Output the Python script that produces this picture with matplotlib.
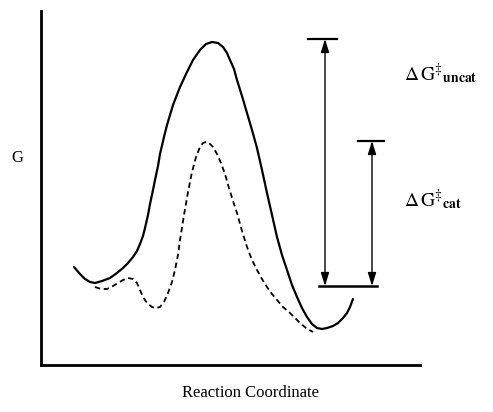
"""Free-energy profile: uncatalysed vs catalysed reaction coordinate diagram."""
import matplotlib
matplotlib.use("Agg")
import matplotlib.pyplot as plt

plt.rcParams["font.family"] = ["Liberation Serif", "DejaVu Serif"]
plt.rcParams["mathtext.fontset"] = "stix"

# Curves (x = reaction coordinate, y = G, pixel-like units, y grows downward)
uncat_x = [74, 80, 85, 90, 95, 102, 110, 117, 123, 128, 133, 137, 140, 143, 145, 148, 150,
           153, 155, 158, 160, 164, 167, 173, 180, 187, 193, 200, 206, 212, 218, 223, 227,
           230, 234, 237, 242, 247, 252, 257, 262, 267, 272, 277, 282, 287, 292, 297, 302,
           307, 312, 317, 322, 327, 333, 338, 343, 347, 350, 353]
uncat_y = [267, 274, 279, 282, 283, 281, 278, 273, 268, 263, 257, 251, 244, 236, 228, 215, 204,
           190, 180, 166, 154, 137, 125, 105, 87, 72, 60, 50, 44, 42, 43, 47, 53,
           60, 69, 80, 96, 113, 130, 148, 170, 193, 215, 237, 255, 270, 285, 297, 308,
           317, 324, 328, 329, 328, 326, 323, 318, 313, 307, 299]

cat_x = [95, 101, 107, 113, 118, 123, 128, 133, 137, 140, 143, 147, 152, 156, 160, 164,
         168, 172, 175, 178, 180, 184, 188, 192, 196, 200, 203, 206, 209, 213, 217,
         221, 225, 229, 233, 237, 242, 247, 252, 257, 262, 267, 272, 277, 283, 290, 295,
         300, 306, 313]
cat_y = [287, 289, 289, 286, 283, 280, 278, 279, 283, 290, 297, 303, 307, 308, 307, 302,
         293, 282, 270, 255, 240, 215, 192, 172, 157, 147, 143, 142, 143, 147, 154,
         163, 174, 188, 201, 213, 231, 247, 260, 270, 279, 287, 294, 300, 307, 313, 318,
         323, 328, 332]

# Energy-gap markers: (x of arrow, top level, bottom level, top bar span)
gap_x = [325, 372]
gap_top = [39, 141]
gap_bottom = 286
top_bar_left = [308, 358]
top_bar_right = [337, 384]
bottom_bar = (319, 377)
gap_labels = [r"$\Delta\,\mathrm{G}^{\ddagger}{}_{\mathbf{uncat}}$",
              r"$\Delta\,\mathrm{G}^{\ddagger}{}_{\mathbf{cat}}$"]
label_y = [74, 200]

fig = plt.figure(figsize=(4.93, 4.12), dpi=100)
W, H = 493, 412
ax = fig.add_axes([41 / W, 1 - 365 / H, (420 - 41) / W, (365 - 11) / H])
ax.set_xlim(41, 420)
ax.set_ylim(365, 11)

ax.plot(uncat_x, uncat_y, color="black", lw=1.6, solid_capstyle="round",
        solid_joinstyle="round")
ax.plot(cat_x, cat_y, color="black", lw=1.3, linestyle=(0, (3, 2)))

for i in range(2):
    ax.annotate("", xy=(gap_x[i], gap_top[i]), xytext=(gap_x[i], gap_bottom),
                arrowprops=dict(arrowstyle="<|-|>,head_length=0.8,head_width=0.25",
                                color="black", lw=1.0,
                                mutation_scale=10, shrinkA=0, shrinkB=0))
    ax.plot([top_bar_left[i], top_bar_right[i]], [gap_top[i], gap_top[i]],
            color="black", lw=1.6)
    ax.text(404, label_y[i], gap_labels[i], fontsize=14, ha="left", va="center",
            clip_on=False)
ax.plot(bottom_bar, [gap_bottom, gap_bottom], color="black", lw=1.8)

for side in ("top", "right"):
    ax.spines[side].set_visible(False)
for side in ("left", "bottom"):
    ax.spines[side].set_linewidth(2)
ax.set_xticks([])
ax.set_yticks([])

fig.text(17 / W, 1 - 158 / H, "G", fontsize=12, ha="center", va="center")
fig.text(250 / W, 1 - 393 / H, "Reaction Coordinate", fontsize=12, ha="center", va="center")

fig.savefig("out.png", dpi=100)
